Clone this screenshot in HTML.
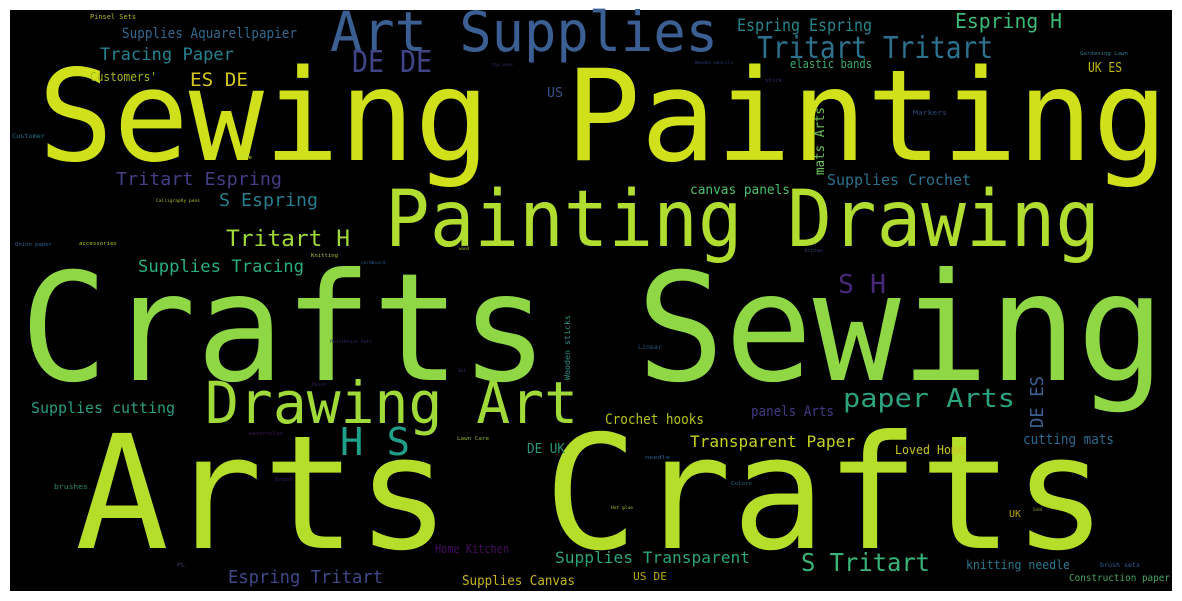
<!DOCTYPE html>
<html><head><meta charset="utf-8"><style>
html,body{margin:0;padding:0;background:#fff;width:1182px;height:601px;overflow:hidden}
svg{display:block}
text{font-family:"DejaVu Sans Mono","Liberation Mono",monospace}
</style></head><body>
<svg width="1182" height="601" viewBox="0 0 1182 601" lengthAdjust="spacingAndGlyphs">
<rect x="10" y="10" width="1162" height="581" fill="#000"/>
<g lengthAdjust="spacingAndGlyphs">
<text x="38" y="160" font-size="127" fill="#d0e11c" textLength="1130" lengthAdjust="spacingAndGlyphs">Sewing Painting</text>
<text x="20" y="380" font-size="150" fill="#8fd744" textLength="1145" lengthAdjust="spacingAndGlyphs">Crafts Sewing</text>
<text x="75" y="548" font-size="158" fill="#b5de2b" textLength="1032" lengthAdjust="spacingAndGlyphs">Arts Crafts</text>
<text x="385" y="246" font-size="78" fill="#b0dd2f" textLength="715" lengthAdjust="spacingAndGlyphs">Painting Drawing</text>
<text x="205" y="423" font-size="58" fill="#a0da39" textLength="373" lengthAdjust="spacingAndGlyphs">Drawing Art</text>
<text x="330" y="51" font-size="55" fill="#3b5f93" textLength="388" lengthAdjust="spacingAndGlyphs">Art Supplies</text>
<text x="352" y="72" font-size="30" fill="#414487" textLength="80" lengthAdjust="spacingAndGlyphs">DE DE</text>
<text x="757" y="58" font-size="30" fill="#2c728e" textLength="236" lengthAdjust="spacingAndGlyphs">Tritart Tritart</text>
<text x="737" y="31" font-size="17" fill="#25858e" textLength="135" lengthAdjust="spacingAndGlyphs">Espring Espring</text>
<text x="955" y="28" font-size="20" fill="#3aba76" textLength="107" lengthAdjust="spacingAndGlyphs">Espring H</text>
<text x="790" y="68" font-size="12" fill="#3bab6e" textLength="82" lengthAdjust="spacingAndGlyphs">elastic bands</text>
<text x="1088" y="72" font-size="13" fill="#c2b70f" textLength="34" lengthAdjust="spacingAndGlyphs">UK ES</text>
<text x="1080" y="55" font-size="5" fill="#2a788e" textLength="48" lengthAdjust="spacingAndGlyphs">Gardening Lawn</text>
<text x="913" y="115" font-size="7" fill="#31487a" textLength="34" lengthAdjust="spacingAndGlyphs">Markers</text>
<text x="824" y="175" font-size="13" fill="#6cc15a" textLength="68" lengthAdjust="spacingAndGlyphs" transform="rotate(-90 824 175)">mats Arts</text>
<text x="827" y="185" font-size="15" fill="#2c728e" textLength="144" lengthAdjust="spacingAndGlyphs">Supplies Crochet</text>
<text x="690" y="194" font-size="13" fill="#4ac16d" textLength="100" lengthAdjust="spacingAndGlyphs">canvas panels</text>
<text x="547" y="97" font-size="13" fill="#3b528b" textLength="16" lengthAdjust="spacingAndGlyphs">US</text>
<text x="838" y="293" font-size="26" fill="#482878" textLength="48" lengthAdjust="spacingAndGlyphs">S H</text>
<text x="805" y="252" font-size="4" fill="#3a4a7a" textLength="18" lengthAdjust="spacingAndGlyphs">Kitchen</text>
<text x="765" y="82" font-size="5" fill="#3a2a6a" textLength="17" lengthAdjust="spacingAndGlyphs">stick</text>
<text x="695" y="64" font-size="4" fill="#2a3e7a" textLength="38" lengthAdjust="spacingAndGlyphs">Wooden pencils</text>
<text x="492" y="66" font-size="4" fill="#3a2a6a" textLength="21" lengthAdjust="spacingAndGlyphs">tip pens</text>
<text x="90" y="19" font-size="7" fill="#b4b61a" textLength="46" lengthAdjust="spacingAndGlyphs">Pinsel Sets</text>
<text x="122" y="38" font-size="14" fill="#31688e" textLength="175" lengthAdjust="spacingAndGlyphs">Supplies Aquarellpapier</text>
<text x="100" y="60" font-size="17" fill="#26828e" textLength="134" lengthAdjust="spacingAndGlyphs">Tracing Paper</text>
<text x="90" y="81" font-size="12" fill="#a8b820" textLength="67" lengthAdjust="spacingAndGlyphs">Customers'</text>
<text x="190" y="86" font-size="19" fill="#d4c61b" textLength="58" lengthAdjust="spacingAndGlyphs">ES DE</text>
<text x="12" y="138" font-size="6" fill="#1f6f8a" textLength="33" lengthAdjust="spacingAndGlyphs">Customer</text>
<text x="242" y="159" font-size="5" fill="#b5de2b" textLength="10" lengthAdjust="spacingAndGlyphs">Pre</text>
<text x="116" y="185" font-size="18" fill="#433e85" textLength="166" lengthAdjust="spacingAndGlyphs">Tritart Espring</text>
<text x="219" y="206" font-size="18" fill="#277f8e" textLength="99" lengthAdjust="spacingAndGlyphs">S Espring</text>
<text x="156" y="202" font-size="4.5" fill="#b5c020" textLength="44" lengthAdjust="spacingAndGlyphs">Calligraphy pens</text>
<text x="226" y="246" font-size="22" fill="#a0da39" textLength="124" lengthAdjust="spacingAndGlyphs">Tritart H</text>
<text x="15" y="246" font-size="5" fill="#2a5f8e" textLength="37" lengthAdjust="spacingAndGlyphs">Onion paper</text>
<text x="79" y="245" font-size="5" fill="#b0c020" textLength="38" lengthAdjust="spacingAndGlyphs">accessories</text>
<text x="311" y="257" font-size="5" fill="#a0c030" textLength="27" lengthAdjust="spacingAndGlyphs">Knitting</text>
<text x="361" y="264" font-size="4" fill="#2a5f8e" textLength="24" lengthAdjust="spacingAndGlyphs">cardboard</text>
<text x="459" y="250" font-size="4" fill="#b5c020" textLength="10" lengthAdjust="spacingAndGlyphs">wood</text>
<text x="138" y="272" font-size="17" fill="#29af7f" textLength="166" lengthAdjust="spacingAndGlyphs">Supplies Tracing</text>
<text x="330" y="343" font-size="4" fill="#3a2a6a" textLength="42" lengthAdjust="spacingAndGlyphs">Paintbrush Sets</text>
<text x="312" y="386" font-size="4" fill="#3a2a6a" textLength="14" lengthAdjust="spacingAndGlyphs">Paint</text>
<text x="31" y="413" font-size="15" fill="#2a9e7e" textLength="144" lengthAdjust="spacingAndGlyphs">Supplies cutting</text>
<text x="249" y="435" font-size="5" fill="#3a1a5a" textLength="34" lengthAdjust="spacingAndGlyphs">watercolor</text>
<text x="340" y="455" font-size="38" fill="#1f9e89" textLength="70" lengthAdjust="spacingAndGlyphs">H S</text>
<text x="54" y="489" font-size="7" fill="#2a8a5f" textLength="34" lengthAdjust="spacingAndGlyphs">brushes</text>
<text x="275" y="481" font-size="5" fill="#3a1a5a" textLength="18" lengthAdjust="spacingAndGlyphs">Brush</text>
<text x="177" y="567" font-size="6" fill="#3e3e6a" textLength="8" lengthAdjust="spacingAndGlyphs">PL</text>
<text x="228" y="583" font-size="18" fill="#3f4889" textLength="155" lengthAdjust="spacingAndGlyphs">Espring Tritart</text>
<text x="570" y="380" font-size="8" fill="#2a8f7f" textLength="65" lengthAdjust="spacingAndGlyphs" transform="rotate(-90 570 380)">Wooden sticks</text>
<text x="638" y="349" font-size="6" fill="#24557a" textLength="24" lengthAdjust="spacingAndGlyphs">Linear</text>
<text x="458" y="372" font-size="4" fill="#3a2a6a" textLength="8" lengthAdjust="spacingAndGlyphs">Set</text>
<text x="605" y="424" font-size="14" fill="#b8c21a" textLength="99" lengthAdjust="spacingAndGlyphs">Crochet hooks</text>
<text x="751" y="416" font-size="14" fill="#3e3a83" textLength="83" lengthAdjust="spacingAndGlyphs">panels Arts</text>
<text x="457" y="440" font-size="5" fill="#8fb030" textLength="32" lengthAdjust="spacingAndGlyphs">Lawn Care</text>
<text x="527" y="453" font-size="13" fill="#2a9578" textLength="38" lengthAdjust="spacingAndGlyphs">DE UK</text>
<text x="690" y="447" font-size="16" fill="#c5d21b" textLength="165" lengthAdjust="spacingAndGlyphs">Transparent Paper</text>
<text x="645" y="459" font-size="5.5" fill="#2a5f8e" textLength="25" lengthAdjust="spacingAndGlyphs">needle</text>
<text x="731" y="485" font-size="5" fill="#1f6f8a" textLength="21" lengthAdjust="spacingAndGlyphs">Colors</text>
<text x="611" y="509" font-size="4" fill="#a0c030" textLength="22" lengthAdjust="spacingAndGlyphs">Hot glue</text>
<text x="435" y="553" font-size="12" fill="#440e5e" textLength="74" lengthAdjust="spacingAndGlyphs">Home Kitchen</text>
<text x="555" y="563" font-size="16" fill="#2aa37e" textLength="195" lengthAdjust="spacingAndGlyphs">Supplies Transparent</text>
<text x="462" y="585" font-size="13" fill="#c6b51b" textLength="113" lengthAdjust="spacingAndGlyphs">Supplies Canvas</text>
<text x="633" y="580" font-size="11" fill="#bda80d" textLength="34" lengthAdjust="spacingAndGlyphs">US DE</text>
<text x="843" y="407" font-size="26" fill="#2aa37e" textLength="172" lengthAdjust="spacingAndGlyphs">paper Arts</text>
<text x="1043" y="428" font-size="18" fill="#3b5f93" textLength="52" lengthAdjust="spacingAndGlyphs" transform="rotate(-90 1043 428)">DE ES</text>
<text x="1023" y="444" font-size="14" fill="#2a6a8e" textLength="91" lengthAdjust="spacingAndGlyphs">cutting mats</text>
<text x="895" y="454" font-size="12" fill="#c8c41f" textLength="70" lengthAdjust="spacingAndGlyphs">Loved Home</text>
<text x="1009" y="517" font-size="10" fill="#b8a30e" textLength="12" lengthAdjust="spacingAndGlyphs">UK</text>
<text x="1033" y="511" font-size="4" fill="#a0c030" textLength="9" lengthAdjust="spacingAndGlyphs">Colored</text>
<text x="801" y="571" font-size="25" fill="#3ab578" textLength="129" lengthAdjust="spacingAndGlyphs">S Tritart</text>
<text x="966" y="569" font-size="12" fill="#2a788e" textLength="104" lengthAdjust="spacingAndGlyphs">knitting needle</text>
<text x="1100" y="567" font-size="6" fill="#2a6098" textLength="40" lengthAdjust="spacingAndGlyphs">brush sets</text>
<text x="1069" y="581" font-size="10" fill="#48a860" textLength="101" lengthAdjust="spacingAndGlyphs">Construction paper</text>
</g>
</svg>
</body></html>
